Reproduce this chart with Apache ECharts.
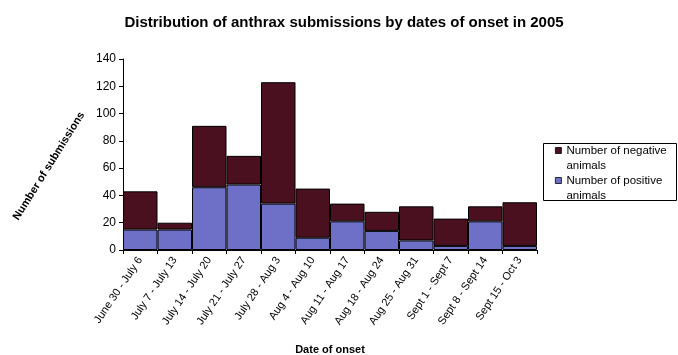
<!DOCTYPE html>
<html>
<head>
<meta charset="utf-8">
<script src="https://cdn.jsdelivr.net/npm/echarts@6/dist/echarts.min.js"></script>
<style>html,body{margin:0;padding:0;background:#fff;}#c{width:678px;height:355px;}</style>
</head>
<body>
<div id="c"></div>
<script>
var categories = ["June 30 - July 6", "July 7 - July 13", "July 14 - July 20", "July 21 - July 27", "July 28 - Aug 3", "Aug 4 - Aug 10", "Aug 11 - Aug 17", "Aug 18 - Aug 24", "Aug 25 - Aug 31", "Sept 1 - Sept 7", "Sept 8 - Sept 14", "Sept 15 - Oct 3"];
var positive = [15, 15, 46, 48, 34, 9, 21, 14, 7, 3, 21, 3];
var negative = [28, 5, 45, 21, 89, 36, 13, 14, 25, 20, 11, 32];
var yTicks = [0, 20, 40, 60, 80, 100, 120, 140];

var FONT = "Liberation Sans, Arial, sans-serif";
var chart = echarts.init(document.getElementById('c'), null, {renderer: 'canvas'});
var names = {
  "Number of negative animals": " \nNumber of negative\nanimals",
  "Number of positive animals": " \nNumber of positive\nanimals"
};
chart.setOption({
  animation: false,
  backgroundColor: '#fff',
  title: {
    text: 'Distribution of anthrax submissions by dates of onset in 2005',
    left: 339, top: 10, textAlign: 'center',
    textStyle: {fontFamily: FONT, fontSize: 15, fontWeight: 'bold', color: '#000'}
  },
  grid: {left: 123, right: 141, top: 59, bottom: 105, containLabel: false, outerBoundsMode: 'none'},
  legend: {
    orient: 'vertical', left: 555, top: 128, padding: 0, itemGap: -15,
    itemWidth: 6, itemHeight: 6, icon: 'rect',
    data: ["Number of negative animals", "Number of positive animals"],
    formatter: function (n) { return names[n]; },
    itemStyle: {borderColor: '#000', borderWidth: 0.8},
    textStyle: {fontFamily: FONT, fontSize: 11.5, color: '#000', lineHeight: 15}
  },
  graphic: [
    {type: 'rect', shape: {x: 543.5, y: 143.5, width: 133, height: 57}, style: {fill: 'none', stroke: '#000', lineWidth: 1}, silent: true},
    {type: 'text', x: 49, y: 166, rotation: 58 * Math.PI / 180,
     style: {text: 'Number of submissions', fontFamily: FONT, fontSize: 11, fontWeight: 'bold', fill: '#000', textAlign: 'center', textVerticalAlign: 'middle'}}
  ],
  xAxis: {
    type: 'category', data: categories,
    name: 'Date of onset', nameLocation: 'middle', nameGap: 94,
    nameTextStyle: {fontFamily: FONT, fontSize: 11, fontWeight: 'bold', color: '#000'},
    axisLine: {lineStyle: {color: '#000', width: 1}},
    axisTick: {show: true, length: 4, lineStyle: {color: '#000'}},
    axisLabel: {rotate: 56, interval: 0, margin: 8, fontFamily: FONT, fontSize: 11, color: '#000'}
  },
  yAxis: {
    type: 'value', min: yTicks[0], max: yTicks[yTicks.length - 1], interval: 20,
    axisLine: {show: true, lineStyle: {color: '#000', width: 1}},
    axisTick: {show: true, length: 4, lineStyle: {color: '#000'}},
    axisLabel: {margin: 7, fontFamily: FONT, fontSize: 12, color: '#000'},
    splitLine: {show: false}
  },
  series: [
    {name: "Number of positive animals", type: 'bar', stack: 's', data: positive, barCategoryGap: 0,
     itemStyle: {color: '#6e70c8', borderColor: '#000', borderWidth: 1}},
    {name: "Number of negative animals", type: 'bar', stack: 's', data: negative, barCategoryGap: 0,
     itemStyle: {color: '#4a1020', borderColor: '#000', borderWidth: 1}}
  ]
});
</script>
</body>
</html>
